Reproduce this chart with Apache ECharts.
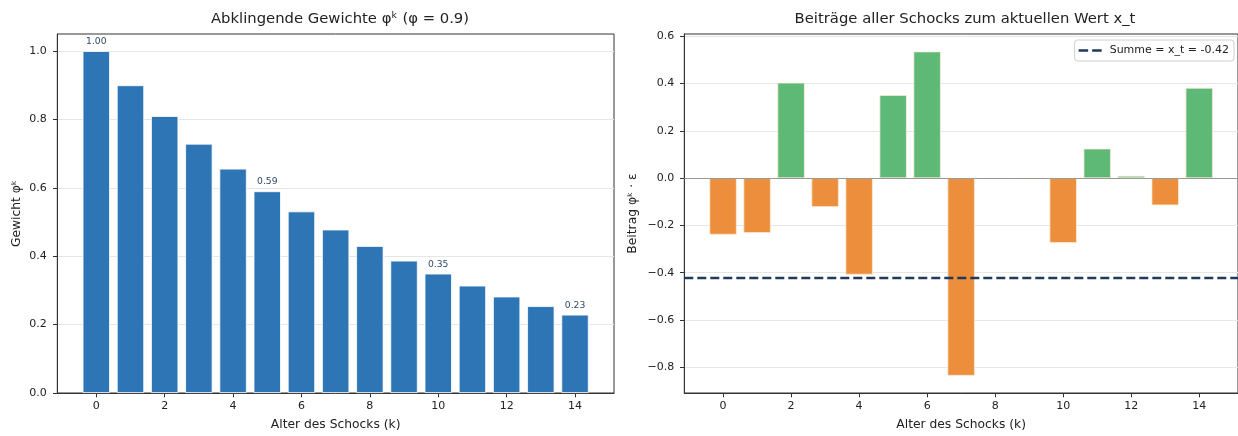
<!DOCTYPE html>
<html>
<head>
<meta charset="utf-8">
<script src="https://cdn.jsdelivr.net/npm/echarts@6/dist/echarts.min.js"></script>
<style>
html,body{margin:0;padding:0;background:#fff;overflow:hidden;}
#c{width:1238px;height:436px;}
</style>
</head>
<body>
<div id="c"></div>
<script>
// ---- data ----
var lags = [0,1,2,3,4,5,6,7,8,9,10,11,12,13,14];
var weights = [1.000,0.900,0.810,0.729,0.656,0.590,0.531,0.478,0.430,0.387,0.349,0.314,0.282,0.254,0.229];
var labelledLags = [0,5,10,14];
var contributions = [-0.239,-0.232,0.404,-0.122,-0.408,0.352,0.536,-0.836,-0.002,-0.001,-0.274,0.125,0.010,-0.115,0.382];
var sumValue = -0.42;
var xTicks = [0,2,4,6,8,10,12,14];
var leftYTicks = [0,0.2,0.4,0.6,0.8,1.0];
var rightYTicks = [-0.8,-0.6,-0.4,-0.2,0,0.2,0.4,0.6];

var FONT = 'DejaVu Sans';
var TXT = '#222';
var TICKFS = 11;
var NAMEFS = 12.3;

var leftData = lags.map(function(k,i){
  return {value:[k,weights[i]], label:{show: labelledLags.indexOf(k)>=0}};
});
var rightData = lags.map(function(k,i){
  var v = contributions[i];
  return {value:[k,v], itemStyle:{color: v>=0 ? '#5eb976' : '#ec8e3c'}};
});

function xAxisCfg(idx){
  return {
    type:'value', gridIndex:idx, min:-1.14, max:15.14,
    name:'Alter des Schocks (k)', nameLocation:'middle', nameGap:26,
    nameTextStyle:{fontFamily:FONT,fontSize:NAMEFS,color:TXT},
    axisLine:{onZero:false,lineStyle:{color:'#333',width:1}},
    axisTick:{show:true,inside:false,length:4.3,customValues:xTicks,lineStyle:{color:'#333'}},
    axisLabel:{customValues:xTicks,fontFamily:FONT,fontSize:TICKFS,color:TXT,margin:8},
    splitLine:{show:false}
  };
}
function minusFmt(v){var s=Math.abs(v).toFixed(1); return (v< -1e-9?'\u2212':'')+s;}

var option = {
  animation:false,
  backgroundColor:'#fff',
  title:[
    {text:'Abklingende Gewichte φᵏ (φ = 0.9)', left:335, top:7, textAlign:'center',
     textStyle:{fontFamily:FONT,fontSize:14.8,fontWeight:'normal',color:TXT}},
    {text:'Beiträge aller Schocks zum aktuellen Wert x_t', left:960, top:7, textAlign:'center',
     textStyle:{fontFamily:FONT,fontSize:14.8,fontWeight:'normal',color:TXT}}
  ],
  legend:{
    data:[{name:'Summe = x_t = -0.42', icon:'path://M0,0H9.5V2.4H0Z M13.5,0H23V2.4H13.5Z'}],
    right:4, top:40,
    orient:'horizontal',
    backgroundColor:'rgba(255,255,255,0.8)',
    borderColor:'#d0d0d0', borderWidth:1, borderRadius:3,
    padding:[5,5,5,4],
    itemWidth:23, itemHeight:2.4, itemGap:8,
    textStyle:{fontFamily:FONT,fontSize:11,color:TXT,padding:[0,0,0,3]}
  },
  grid:[
    {left:57.3, width:556.7, top:34, height:364.5, show:true, borderColor:'#333', borderWidth:1},
    {left:684.3, width:553.7, top:34, height:364.5, show:true, borderColor:'#333', borderWidth:1}
  ],
  xAxis:[xAxisCfg(0), xAxisCfg(1)],
  yAxis:[
    {type:'value', gridIndex:0, min:0, max:1.05,
     name:'Gewicht φᵏ', nameLocation:'middle', nameGap:34, nameRotate:90,
     nameTextStyle:{fontFamily:FONT,fontSize:NAMEFS,color:TXT},
     axisLine:{show:true,onZero:false,lineStyle:{color:'#333'}},
     axisTick:{show:true,inside:false,length:4.3,customValues:leftYTicks,lineStyle:{color:'#333'}},
     axisLabel:{customValues:leftYTicks,fontFamily:FONT,fontSize:TICKFS,color:TXT,margin:10.5,
       formatter:minusFmt},
     splitLine:{show:true,lineStyle:{color:'#e6e6e6',width:1}}
    },
    {type:'value', gridIndex:1, min:-0.909, max:0.61,
     name:'Beitrag φᵏ · ε', nameLocation:'middle', nameGap:45, nameRotate:90,
     nameTextStyle:{fontFamily:FONT,fontSize:NAMEFS,color:TXT},
     axisLine:{show:true,onZero:false,lineStyle:{color:'#333'}},
     axisTick:{show:true,inside:false,length:4.3,customValues:rightYTicks,lineStyle:{color:'#333'}},
     axisLabel:{customValues:rightYTicks,fontFamily:FONT,fontSize:TICKFS,color:TXT,margin:10,
       formatter:minusFmt},
     splitLine:{show:true,lineStyle:{color:'#e6e6e6',width:1}}
    }
  ],
  series:[
    {type:'bar', xAxisIndex:0, yAxisIndex:0, data:leftData, barWidth:27.3,
     itemStyle:{color:'#2e75b6',borderColor:'#ffffff',borderWidth:0.8},
     label:{show:false,position:'top',distance:5,fontFamily:FONT,fontSize:9.2,color:'#2c4a6e',
       formatter:function(p){return p.value[1].toFixed(2);}}
    },
    {type:'bar', xAxisIndex:1, yAxisIndex:1, data:rightData, barWidth:27.3,
     itemStyle:{borderColor:'rgba(255,235,215,0.9)',borderWidth:0.8},
     markLine:{silent:true, symbol:['none','none'], label:{show:false},
       lineStyle:{color:'#999',width:1.2,type:'solid'},
       data:[{yAxis:0}]}
    },
    {type:'line', name:'Summe = x_t = -0.42', xAxisIndex:1, yAxisIndex:1, data:[],
     symbol:'none', showSymbol:false,
     itemStyle:{color:'#1f3a5c'},
     lineStyle:{color:'#1f3a5c',width:2.4,type:[9,4]},
     markLine:{silent:true, symbol:['none','none'], label:{show:false},
       lineStyle:{color:'#1f3a5c',width:2.4,type:[9,4]},
       data:[{yAxis:sumValue}]}
    }
  ]
};
var chart = echarts.init(document.getElementById('c'), null, {renderer:'canvas'});
chart.setOption(option);
</script>
</body>
</html>
